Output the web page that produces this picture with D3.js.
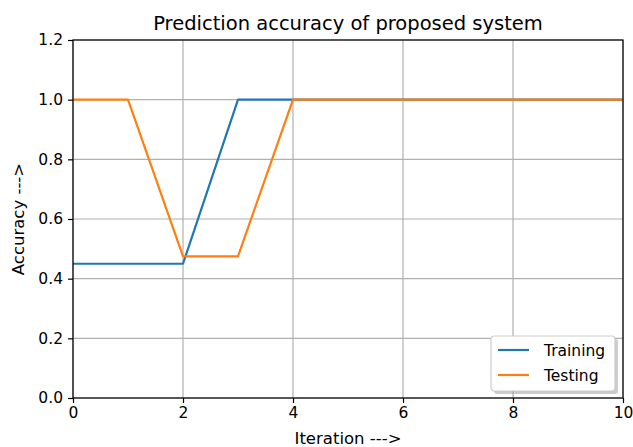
<!DOCTYPE html>
<html>
<head>
<meta charset="utf-8">
<script src="https://cdn.jsdelivr.net/npm/d3@7"></script>
<style>
  body { margin: 0; background: #fff; }
  text { font-family: "DejaVu Sans", sans-serif; fill: #000; }
</style>
</head>
<body>
<script>
const iterations = [0, 1, 2, 3, 4, 5, 6, 7, 8, 9, 10];
const training = [0.45, 0.45, 0.45, 1.0, 1.0, 1.0, 1.0, 1.0, 1.0, 1.0, 1.0];
const testing = [1.0, 1.0, 0.475, 0.475, 1.0, 1.0, 1.0, 1.0, 1.0, 1.0, 1.0];
const xTicks = [0, 2, 4, 6, 8, 10];
const yTicks = [0.0, 0.2, 0.4, 0.6, 0.8, 1.0, 1.2];
const seriesNames = ["Training", "Testing"];
const colors = ["#1f77b4", "#ff7f0e"];

const width = 633, height = 447;
const margin = {top: 40, right: 10, bottom: 49, left: 73};

const svg = d3.select("body").append("svg")
    .attr("width", width)
    .attr("height", height);

const x = d3.scaleLinear().domain([0, 10]).range([margin.left, width - margin.right]);
const y = d3.scaleLinear().domain([0, 1.2]).range([height - margin.bottom, margin.top]);

// grid
svg.append("g")
    .selectAll("line")
    .data(xTicks)
    .join("line")
    .attr("x1", d => x(d)).attr("x2", d => x(d))
    .attr("y1", y(0)).attr("y2", y(1.2))
    .attr("stroke", "#b0b0b0").attr("stroke-width", 1.2);

svg.append("g")
    .selectAll("line")
    .data(yTicks)
    .join("line")
    .attr("x1", x(0)).attr("x2", x(10))
    .attr("y1", d => y(d)).attr("y2", d => y(d))
    .attr("stroke", "#b0b0b0").attr("stroke-width", 1.2);

// lines
const line = d3.line()
    .x((d, i) => x(iterations[i]))
    .y(d => y(d));

[training, testing].forEach((s, k) => {
    svg.append("path")
        .datum(s)
        .attr("fill", "none")
        .attr("stroke", colors[k])
        .attr("stroke-width", 2.2)
        .attr("stroke-linejoin", "round")
        .attr("d", line);
});

// axes
const xAxis = svg.append("g")
    .attr("transform", `translate(0,${y(0)})`)
    .call(d3.axisBottom(x).tickValues(xTicks).tickFormat(d3.format("d")).tickSize(5).tickPadding(4));

const yAxis = svg.append("g")
    .attr("transform", `translate(${x(0)},0)`)
    .call(d3.axisLeft(y).tickValues(yTicks).tickFormat(d3.format(".1f")).tickSize(5).tickPadding(5));

[xAxis, yAxis].forEach(a => {
    a.select(".domain").remove();
    a.selectAll(".tick line").attr("stroke", "#000").attr("stroke-width", 1.2);
    a.selectAll(".tick text").attr("font-size", 15.5).attr("font-family", "DejaVu Sans, sans-serif").attr("fill", "#000");
});

// frame
svg.append("rect")
    .attr("x", x(0)).attr("y", y(1.2))
    .attr("width", x(10) - x(0)).attr("height", y(0) - y(1.2))
    .attr("fill", "none").attr("stroke", "#000").attr("stroke-width", 1.2);

// title and labels
svg.append("text")
    .attr("x", (x(0) + x(10)) / 2).attr("y", 30)
    .attr("text-anchor", "middle").attr("font-size", 19.5)
    .text("Prediction accuracy of proposed system");

svg.append("text")
    .attr("x", (x(0) + x(10)) / 2).attr("y", 444)
    .attr("text-anchor", "middle").attr("font-size", 16.5)
    .text("Iteration --->");

svg.append("text")
    .attr("transform", `translate(24,${(y(0) + y(1.2)) / 2}) rotate(-90)`)
    .attr("text-anchor", "middle").attr("font-size", 16.5)
    .text("Accuracy --->");

// legend
const lg = svg.append("g").attr("transform", "translate(491,336)");
lg.append("rect")
    .attr("x", 3).attr("y", 3).attr("width", 124).attr("height", 55)
    .attr("rx", 3).attr("fill", "#999").attr("opacity", 0.5);
lg.append("rect")
    .attr("width", 124).attr("height", 55)
    .attr("rx", 3).attr("fill", "#fff").attr("stroke", "#ccc").attr("stroke-width", 1.2);

seriesNames.forEach((name, i) => {
    const g = lg.append("g").attr("transform", `translate(0,${14 + i * 25})`);
    g.append("line")
        .attr("x1", 7).attr("x2", 38)
        .attr("stroke", colors[i]).attr("stroke-width", 2.2);
    g.append("text")
        .attr("x", 53).attr("y", 5.5).attr("font-size", 15.5)
        .text(name);
});
</script>
</body>
</html>
